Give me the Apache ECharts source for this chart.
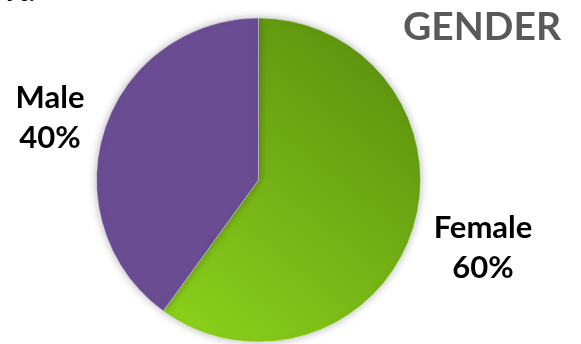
<!DOCTYPE html>
<html>
<head>
<meta charset="utf-8">
<script src="https://cdn.jsdelivr.net/npm/echarts@6/dist/echarts.min.js"></script>
<style>
  html, body { margin: 0; padding: 0; background: #fff; }
  #pie_chart { width: 581px; height: 344px; }
</style>
</head>
<body>
<div id="pie_chart"></div>
<script>
var categories = ['Female', 'Male'];
var shares = [60, 40];

// label anchor points (pixels) for each slice
var labelSpots = [[483, 248], [50, 118]];

var chart = echarts.init(document.getElementById('pie_chart'));
var option = {
    animation: false,
    title: {
        text: 'GENDER',
        right: 15,
        top: 3,
        textStyle: {
            color: '#595959',
            fontFamily: 'Lato',
            fontWeight: 'bold',
            fontSize: 39
        }
    },
    graphic: [{
        type: 'text',
        left: 6,
        top: -24,
        style: { text: 'rt.', fill: '#000', font: 'bold 30px Lato' }
    }],
    series: [
        {
            type: 'pie',
            center: [258.5, 180],
            radius: [0, 162],
            startAngle: 90,
            clockwise: true,
            data: categories.map(function (name, i) {
                return { name: name, value: shares[i] };
            }),
            itemStyle: {
                borderColor: 'rgba(255,255,255,0.35)',
                borderWidth: 1,
                shadowBlur: 8,
                shadowColor: 'rgba(0,0,0,0.3)'
            },
            color: [
                new echarts.graphic.LinearGradient(1, 0, 0, 1, [
                    { offset: 0, color: '#578a0e' },
                    { offset: 1, color: '#8dd41c' }
                ]),
                '#6a4c93'
            ],
            label: {
                show: true,
                position: 'outside',
                formatter: '{b}\n{c}%',
                color: '#000',
                fontFamily: 'Lato',
                fontWeight: 'bold',
                fontSize: 31,
                lineHeight: 40,
                align: 'center',
                overflow: 'none'
            },
            labelLine: { show: false },
            labelLayout: function (params) {
                var p = labelSpots[params.dataIndex];
                return { x: p[0], y: p[1], align: 'center', verticalAlign: 'middle' };
            }
        }
    ]
};
chart.setOption(option);
</script>
</body>
</html>
